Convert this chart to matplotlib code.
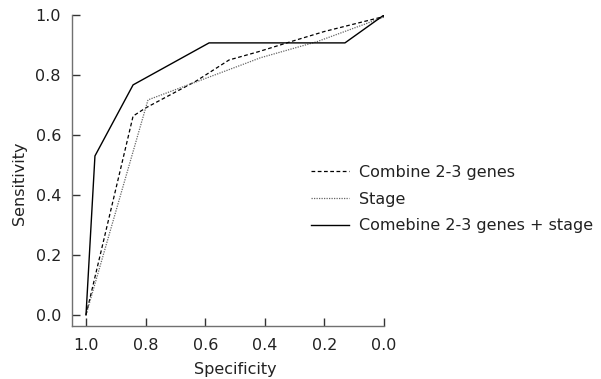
import matplotlib
matplotlib.use("Agg")
import matplotlib.pyplot as plt

# Data (specificity, sensitivity)
genes_spec = [1.0, 0.842, 0.80, 0.63, 0.52, 0.42, 0.30, 0.20, 0.0]
genes_sens = [0.0, 0.663, 0.69, 0.78, 0.85, 0.878, 0.915, 0.945, 0.995]

stage_spec = [1.0, 0.792, 0.63, 0.45, 0.416, 0.225, 0.0]
stage_sens = [0.0, 0.717, 0.777, 0.844, 0.857, 0.911, 0.993]

comb_spec = [1.0, 0.97, 0.842, 0.587, 0.131, 0.0]
comb_sens = [0.0, 0.53, 0.767, 0.907, 0.907, 1.0]

labels = ["Combine 2-3 genes", "Stage", "Comebine 2-3 genes + stage"]
ticks = [1.0, 0.8, 0.6, 0.4, 0.2, 0.0]

plt.rcParams['font.family'] = ['DejaVu Sans']
FS = 11.5

fig = plt.figure(figsize=(6.01, 3.79), dpi=100)
ax = fig.add_axes([72/601, 1-326/379, (384-72)/601, (326-15)/379])

ax.plot(genes_spec, genes_sens, color='black', lw=0.9, linestyle=(0, (3, 2)), label=labels[0])
ax.plot(stage_spec, stage_sens, color='#666666', lw=0.9, linestyle=(0, (1, 1)), label=labels[1])
ax.plot(comb_spec, comb_sens, color='black', lw=1.0, linestyle='-', label=labels[2])

ax.set_xlim(1.047, 0.0)
ax.set_ylim(-0.037, 1.0)
ax.set_xticks(ticks)
ax.set_xticklabels([f"{t:.1f}" for t in ticks])
ax.set_yticks(ticks[::-1])
ax.set_yticklabels([f"{t:.1f}" for t in ticks[::-1]])

for s in ['top', 'right']:
    ax.spines[s].set_visible(False)
for s in ['left', 'bottom']:
    ax.spines[s].set_color('#707070')
    ax.spines[s].set_linewidth(1.0)

ax.tick_params(direction='in', length=6, width=1.0, color='#333333', labelsize=FS,
               labelcolor='#222222')
ax.tick_params(axis='x', pad=9)
ax.tick_params(axis='y', pad=8)

ax.set_xlabel("Specificity", fontsize=FS, color='#222222')
ax.xaxis.set_label_coords((235-72)/312, -(362-326)/311)
ax.set_ylabel("Sensitivity", fontsize=FS, color='#222222')
ax.yaxis.set_label_coords(-(72-27)/312, (326-183)/311)

leg = ax.legend(loc='upper left', bbox_to_anchor=(311/601, 1-165/379),
                bbox_transform=fig.transFigure, frameon=False, fontsize=FS,
                handlelength=2.4, handletextpad=0.6, labelspacing=0.73,
                borderpad=0, borderaxespad=0)
for t in leg.get_texts():
    t.set_color('#222222')

fig.savefig("out.png", dpi=100)
